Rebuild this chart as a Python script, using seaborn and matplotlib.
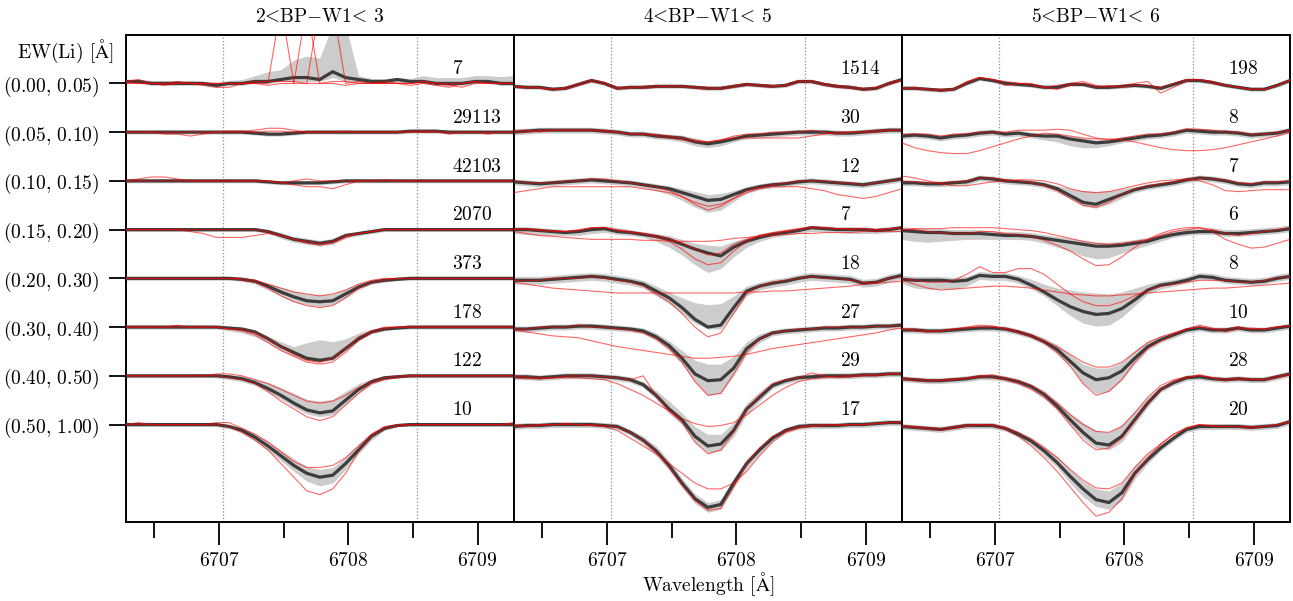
import numpy as np
import pandas as pd
import matplotlib
matplotlib.use("Agg")
import matplotlib.pyplot as plt
import seaborn as sns
from matplotlib.ticker import FixedLocator

# ---------------- data (flux deviations from continuum, in units of 0.01) ----------------
WL_START = 6706.28
WL_STEP = 0.1
N_PIX = 31
LI_LINE = 6707.78
WINDOW_EDGES = [6707.03, 6708.53]

COLOR_BINS = [(2, 3), (4, 5), (5, 6)]
EW_BINS = [("0.00", "0.05"), ("0.05", "0.10"), ("0.10", "0.15"), ("0.15", "0.20"),
           ("0.20", "0.30"), ("0.30", "0.40"), ("0.40", "0.50"), ("0.50", "1.00")]
COUNTS_P1 = [7, 29113, 42103, 2070, 373, 178, 122, 10]
COUNTS_P2 = [1514, 30, 12, 7, 18, 27, 29, 17]
COUNTS_P3 = [198, 8, 7, 6, 8, 10, 28, 20]
XTICKS = [6707, 6708, 6709]
XMINOR = [6706.5, 6707.5, 6708.5]

MED_P1 = [
    [1,1,0,0,0,0,0,-1,0,0,1,1,2,3,3,2,6,3,2,1,1,2,1,1,0,0,0,1,1,0,0],
    [0,0,0,0,0,0,0,0,0,0,-0.5,-1,-1,-0.5,0,0,0,0,0,0,0,0,0.5,0.5,0.5,0,0,0,0,0,0],
    [0,0,0,0,0,0,0,0,0,0,0,-0.5,-1,-1,-1,-1,-0.5,0,0,0,0,0,0,0,0,0,0,0,0,0,0],
    [0,0,0,0,0,0,0,0,0,0,0,-1,-3,-5,-6,-7,-6,-3,-2,-1,0,0,0,0,0,0,0,0,0,0,0],
    [0,0,0,0,0,0,0,0,0,-0.5,-1.5,-4,-7,-9.5,-11.5,-12,-11.5,-8,-4.5,-2,-1,-0.5,0,0,0,0,0,0,0,0,0],
    [0,0,0,0,0,0,0,0,-0.5,-1,-2.5,-6,-10,-13,-16,-17,-16,-11,-6,-2.5,-1,-0.5,0,0,0,0,0,0,0,0,0],
    [0,0,0,0,0,0,0,0,-0.5,-1.5,-3.5,-6.5,-10,-14,-17.5,-19,-18,-12.5,-7,-3,-1,-0.5,0,0,0,0,0,0,0,0,0],
    [0,0,0,0,0,0,0,0,-1,-3,-6.5,-11,-16,-21,-25,-27,-26,-20,-13,-6,-2,-0.5,0,0,0,0,0,0,0,0,0],
]
HI_P1 = [
    [2,2,1.5,1.5,1.5,1.5,1,0.5,1.5,2,4,6,7,12,14,13,30,30,4,2.5,2.5,3,2.5,4,3,3,3,4,4,3.5,4],
    [1,1,1,1,1,1,1,1,1,1,0.5,0,0,0.5,1,1,1,1,1,1,1,1,1.5,1.5,1.5,1,1,1,1,1,1],
    [1,1,1,1,1,1,1,1,1,1,1,0.5,0,0,0,0,0.5,1,1,1,1,1,1,1,1,1,1,1,1,1,1],
    [1,1,1,1,1,1,1,1,1,1,1,0,-1.5,-3.5,-4.5,-5.5,-4.5,-2,-1,0,1,1,1,1,1,1,1,1,1,1,1],
    [1,1,1,1,1,1,1,1,1,0.5,-0.5,-2.5,-4.5,-6.5,-8,-8.5,-8,-5.5,-2.5,-1,0,0.5,1,1,1,1,1,1,1,1,1],
    [1,1,1,1,1,1,1,0.5,0,0,-1.5,-4.5,-7.5,-10,-8,-6.5,-7.5,-6,-3,-1,0,0.5,1,1,1,1,1,1,1,1,1],
    [1,1,1,1,1,1,1,1,0.5,0,-1.5,-3.5,-6,-9,-12,-13,-12,-8,-4,-1.5,0,0.5,1,1,1,1,1,1,1,1,1],
    [1,1,1,1,1,1,1,1,0,-1.5,-4.5,-8.5,-13,-17.5,-21.5,-23,-22,-16.5,-10,-4,-1,0.5,1,1,1,1,1,1,1,1,1],
]
LO_P1 = [
    [0,0,-1,-1,-1,-1,-1,-2,-1,-1,0,0,1,1,1,1,3,1,0.5,0,0,0.5,0,0,-1,-1,-1,0,0,-1,-1],
    [-1,-1,-1,-1,-1,-1,-1,-1,-1,-1,-1.5,-2,-2,-1.5,-1,-1,-1,-1,-1,-1,-1,-1,-0.5,-0.5,-0.5,-1,-1,-1,-1,-1,-1],
    [-1,-1,-1,-1,-1,-1,-1,-1,-1,-1,-1,-1.5,-2,-2,-2,-2,-1.5,-1,-1,-1,-1,-1,-1,-1,-1,-1,-1,-1,-1,-1,-1],
    [-1,-1,-1,-1,-1,-1,-1,-1,-1,-1,-1,-2,-4.5,-6.5,-7.5,-8.5,-7.5,-4.5,-3,-2,-1,-1,-1,-1,-1,-1,-1,-1,-1,-1,-1],
    [-1,-1,-1,-1,-1,-1,-1,-1,-1,-1.5,-3,-6,-9,-12,-13.5,-14.5,-13.5,-10,-6,-3,-2,-1,-1,-1,-1,-1,-1,-1,-1,-1,-1],
    [-1,-1,-1,-1,-1,-1,-1,-1,-2,-3,-5,-8,-12,-15,-17.5,-18,-17,-12,-7,-3.5,-2,-1,-1,-1,-1,-1,-1,-1,-1,-1,-1],
    [-1,-1,-1,-1,-1,-1,-1,-1,-2,-3,-5,-8.5,-12,-16,-19.5,-21,-20,-14.5,-9,-4.5,-2,-1,-1,-1,-1,-1,-1,-1,-1,-1,-1],
    [-1,-1,-1,-1,-1,-1,-1,-1,-2,-4.5,-8.5,-13.5,-18.5,-24,-29,-31.5,-30,-23,-15,-8,-3,-1,-1,-1,-1,-1,-1,-1,-1,-1,-1],
]
RED_P1 = [
    [[1,2,0,0,1,0,-1,-2,-2,0,0,0,40,0,0,0,1,1,0,0,0,0,0,1,0,-1,-2,0,0,0,0],
     [0,0,0,-1,0,0,0,0,0,0,0,-1,0,0,40,0,0,-1,0,0,0,0,-1,0,-1,-2,0,1,0,0,0],
     [1,0,0,0,0,0,0,0,0,0,1,1,1,1,0,40,40,0,1,0,1,0,0,1,0,0,0,1,0,0,0]],
    [[0,0,0,-1,-1,-2,-1,0,0,0,0,0.5,0.5,0,0,0,0,0,0,0,0,0,0.5,0.5,0.5,-1,0,0,0,0,0],
     [0,0,0,0,0,0,0,0,0.5,0.5,1,2,2,1,0,0,0,0.5,0,0,0,0,0,0,0,0,0,0,-1,0,0]],
    [[0,1,2,2,1,0,0,0,0,0,0,0,-1,0,1,0,0,0,0,0,0.5,0,0,0,0,0,0,0,0,0,0],
     [0,0,0,0,0,0,0,0,0,0,0,0,-1,-2,-3,-3,-4,-2,0,0,0,0,0,0,0,0,0,0,0,0,0]],
    [[0,0,0,0,0,-1,-2,-4,-4,-4,-3,-2,-3,-5,-6,-7,-6,-3,-2,-1,0,0,0,0,0,0,0,0,0,0,0],
     [0,0,0,0,0,0,0,0,0,0,0,-1,-3,-5,-7,-8,-7,-4,-2,-1,0,0,0,0,0,0,0,0,0,0,0]],
    [[0,0,0,0,0,0,0,0,0,-1,-2,-5,-9,-12,-14,-15,-14,-10,-5,-2,-1,0,0,0,0,0,0,0,0,0,0],
     [0,0,0,0,0,0,0,0,0,0,-1,-3,-5,-7,-8,-9,-8,-6,-3,-1,0,0,0,0,0,0,0,0,0,0,0]],
    [[0,0,0,0,0,0,0,0,-1,-2,-4,-8,-12,-15,-18,-19,-18,-13,-7,-3,-1,0,0,0,0,0,0,0,0,0,0],
     [0,0,0,0,1,0,0,0,-1,-1,-3,-6,-10,-14,-17,-18,-16,-11,-5,-2,0,0,0,0,0,0,0,0,0,0,0]],
    [[0,0,0,0,0,0,0,1,1,0,-2,-4,-7,-10,-13,-14,-13,-10,-6,-3,-1,0,0,0,0,0,0,0,0,0,0],
     [0,0,0,0,0,0,0,0,-1,-2,-4,-8,-13,-17,-21,-23,-21,-15,-9,-4,-2,-1,0,0,0,0,0,0,0,0,0]],
    [[0,1,0,0,0,0,0,1,1,-2,-5,-9,-14,-19,-22,-22,-21,-17,-11,-5,-1,0,0,0,0,0,0,0,0,0,1],
     [0,0,0,0,0,0,0,0,-1,-4,-8,-13,-20,-27,-34,-36,-33,-25,-14,-6,-2,-1,0,0,0,0,0,0,0,0,0]],
]

MED_P2 = [
    [-1.5,-2,-2,-3,-2.5,-0.5,1.5,0,-2.5,-2,-2,-1.5,-1.5,-1.5,-2,-2.5,-2.5,-1.5,-0.5,-1,-1.5,-1,1,1,-0.5,-1.5,-2,-3,-2.5,0,2],
    [0,0.5,1,1,1,1,1,0.5,0,-1,-1,-2,-2.5,-3,-5,-6,-5,-3.5,-2,-1.5,-1,-0.5,0,0,0,-0.5,-0.5,0,0.5,1,1],
    [-0.5,-1,-1.5,-1,-0.5,0,0.5,0,-0.5,-1,-2,-3,-4,-6,-8,-10,-9.5,-7,-4.5,-3,-2,-1.5,-0.5,0,-0.5,-1,-1.5,-2,-1,0,1],
    [0,0,-0.5,-1,-1.5,-1,0,0.5,-1,-1.5,-2.5,-3.5,-5,-7.5,-10,-12,-13.5,-9,-6,-4,-2.5,-1.5,-0.5,1,0.5,0,0,0,-0.5,0,1],
    [-1,-1,-1,-0.5,0,0.5,1,0.5,-0.5,-1.5,-3,-6.5,-10,-15,-21,-25,-24,-15,-6.5,-4,-2.5,-1.5,0,1,0.5,0,-0.5,-2.5,-2,0,1.5],
    [-1,-1,-0.5,0,0,0.5,0.5,0,-0.5,-1,-2,-5,-9.5,-16,-24,-27.5,-27,-21,-11,-6,-3,-2,-1.5,-1,-0.5,-0.5,0,0,0.5,0.5,1],
    [-0.5,-0.5,-1,-0.5,0,0,0,-0.5,-1,-2,-4.5,-10,-17,-22.5,-31,-36,-35,-28,-17,-11,-5,-2.5,-1,-0.5,0,0,0,0.5,0.5,1,1],
    [-1,-0.5,-0.5,0,0,0,0,-0.5,-1,-4,-8,-13.5,-21,-30,-38,-42.5,-41,-30,-20,-13,-7,-3,-1,-0.5,-0.5,-0.5,0,0,0.5,1,1],
]
HI_P2 = [
    [-0.5,-1,-1,-2,-1.5,0.5,2.5,1,-1.5,-1,-1,-0.5,-0.5,-0.5,-1,-1.5,-1.5,-0.5,0.5,0,-0.5,0,2,2,0.5,-0.5,-1,-2,-1.5,1,3],
    [1.5,2,2.5,2.5,2.5,2.5,2.5,2,1.5,0.5,0.5,-0.5,-1,-1.5,-3,-4.5,-3.5,-2,-0.5,0,0.5,1,1.5,1.5,1.5,1,1,1.5,2,2.5,2.5],
    [1,0.5,0,0.5,1,1.5,2,1.5,1,0.5,-0.5,-1.5,-2.5,-4,-5.5,-7,-6.5,-5,-3,-1.5,-0.5,0,1,1.5,1,0.5,0,-0.5,0.5,1.5,2.5],
    [1.5,1.5,1,0.5,0,0,1.5,2,1,0,-1,-2,-3,-5,-7,-8,-8.5,-6,-4,-2,-1,0,1,2,2,1.5,1.5,1.5,1,1.5,2],
    [1,1,1,1.5,2,2.5,3,2.5,1.5,0.5,-1,-4,-7,-10,-12.5,-13.5,-13,-9,-4,-2,-0.5,0.5,2,3,2.5,2,1.5,-0.5,0,2,3.5],
    [0.5,0.5,1,1.5,1.5,2,2,1.5,1,0.5,-0.5,-3,-7,-12,-17,-19,-19,-15,-7.5,-3.5,-1.5,-0.5,0,0.5,1,1,1.5,1.5,2,2,2.5],
    [1,1,0.5,1,1.5,1.5,1.5,1,0.5,-0.5,-3,-7.5,-13,-19,-26,-30,-30,-24,-14,-8,-3,-1,0.5,1,1.5,1.5,1.5,2,2,2.5,2.5],
    [0.5,1,1,1.5,1.5,1.5,1.5,1,0.5,-2.5,-6,-11,-18.5,-27.5,-35.5,-40,-38.5,-27.5,-17.5,-11,-5.5,-1.5,0.5,1,1,1,1.5,1.5,2,2.5,2.5],
]
LO_P2 = [
    [-2.5,-3,-3,-4,-3.5,-1.5,0.5,-1,-3.5,-3,-3,-2.5,-2.5,-2.5,-3,-3.5,-3.5,-2.5,-1.5,-2,-2.5,-2,0,0,-1.5,-2.5,-3,-4,-3.5,-1,1],
    [-1.5,-1,-0.5,-0.5,-0.5,-0.5,-0.5,-1,-1.5,-2.5,-2.5,-3.5,-4,-5,-7,-8,-7,-5,-3.5,-3,-2.5,-2,-1.5,-1.5,-1.5,-2,-2,-1.5,-1,-0.5,-0.5],
    [-2,-2.5,-3,-2.5,-2,-1.5,-1,-1.5,-2,-2.5,-3.5,-5,-7,-10,-13.5,-16,-15,-10.5,-6.5,-4.5,-3.5,-3,-2,-1.5,-2,-2.5,-3,-3.5,-2.5,-1.5,-0.5],
    [-2,-2.5,-3,-3,-3,-3,-2,-1.5,-2.5,-3,-4,-6,-9,-13,-18,-22,-20,-14,-9,-6,-4,-3,-2,-1,-1,-1.5,-2,-2,-2,-1.5,-1],
    [-3,-3,-3,-2.5,-2,-1.5,-1,-1.5,-2.5,-3.5,-5,-9,-13,-18,-23,-26,-26,-18,-9,-6,-4.5,-3.5,-2,-1,-1.5,-2,-2.5,-4.5,-4,-2,-0.5],
    [-2.5,-2.5,-2,-1.5,-1.5,-1,-1,-1.5,-2,-2.5,-3.5,-7,-12,-19,-28,-35,-34,-25,-14,-8,-4.5,-3.5,-3,-2.5,-2,-2,-1.5,-1.5,-1,-1,-0.5],
    [-2,-2,-2.5,-2,-1.5,-1.5,-1.5,-2,-2.5,-3.5,-6,-12,-19.5,-25,-34,-39.5,-38.5,-31,-20,-13,-6.5,-4,-2.5,-2,-1.5,-1.5,-1.5,-1,-1,-0.5,-0.5],
    [-2.5,-2,-2,-1.5,-1.5,-1.5,-1.5,-2,-2.5,-5.5,-10,-16,-23.5,-32.5,-40.5,-45,-43.5,-32.5,-22.5,-15,-8.5,-4.5,-2.5,-2,-2,-2,-1.5,-1.5,-1,-0.5,-0.5],
]
RED_P2 = [
    [[-1,-2.5,-2,-3.5,-2,0,2,0.5,-2,-2.5,-1.5,-1,-2,-1,-2.5,-3,-2,-1,0,-1.5,-2,-0.5,1.5,0.5,-1,-2,-2.5,-3.5,-3,0.5,2],
     [-2,-1.5,-2.5,-2.5,-3,-1,1,-0.5,-3,-1.5,-2.5,-2,-1,-2,-1.5,-2,-3,-2,-1,-0.5,-1,-1.5,0.5,1.5,0,-1,-1.5,-2.5,-2,-0.5,1.5]],
    [[0,0,1,1,1,1,1,0,0,-1,-1,-2,-3,-4,-5,-5,-4,-3,-3,-3,-3,-3,-3,-2,-1,0,0,0,0,1,1],
     [1,1,0,1,1,1,1,1,0,-1,-1,-1,-2,-3,-4,-5,-4,-2,-1,-1,0,0,0,1,0,-1,0,0,1,1,1]],
    [[-6,-5,-4,-3,-3,-3,-3,-3,-3,-3,-4,-5,-6,-8,-11,-13,-12,-9,-6,-4,-3,-3,-3,-4,-5,-7,-8,-9,-8,-6,-4],
     [0,-1,-1,-1,0,0,1,1,0,-1,-2,-3,-5,-8,-12,-15,-13,-9,-5,-3,-2,-1,0,0,0,-1,-1,-2,-1,0,1]],
    [[-1,-2,-3,-3.5,-4,-4.5,-5,-5,-5,-5,-5.5,-5.5,-6,-6,-6,-6,-5.5,-4.5,-4,-3.5,-3,-2.5,-2,-2,-1.5,-1.5,-1.5,-1,-1,-1,-1],
     [0.5,0,-0.5,-0.5,-1,0,1,1,0,-1,-2,-4,-6,-10,-15,-18,-17,-11,-6,-3,-2,-1,0,1,1,0.5,0,0.5,0,0.5,1],
     [0,0.5,0,-1,-1,-0.5,1,1,-0.5,-1.5,-2,-3,-4.5,-7,-10,-13,-12,-7.5,-5,-3,-1.5,-0.5,0.5,1.5,1,0.5,0.5,0.5,0,0.5,1]],
    [[-2,-3,-4,-5,-5.5,-6,-6.5,-7,-7.5,-7.5,-7.5,-7.5,-7.5,-7.5,-7.5,-7.5,-7.5,-7.5,-7,-7,-6.5,-6.5,-6,-5.5,-5,-4.5,-4,-3,-2.5,-2,-1.5],
     [-1,-1,-1,0,0,0,1,0,-1,-2,-4,-8,-12,-18,-25,-30,-28,-18,-8,-4,-2,-1,0,1,0,0,-1,-2,-2,0,1]],
    [[-1.5,-2.5,-3.5,-4.5,-5,-5.5,-7,-8.5,-10,-11,-12,-13,-14,-15,-16,-16,-15.5,-15,-14,-12.5,-11,-10,-9,-8,-7,-6,-5,-4,-3,-1.5,-0.5],
     [-1,-1,0,0,0,1,0,0,-1,-1.5,-3,-6,-11,-18,-28,-35,-34,-24,-13,-6,-3,-2,-1,-1,0,0,0,0,0.5,0.5,1]],
    [[0,-0.5,-1,-1,-1,-1,-1.5,-2,-4,-7,-10,-14,-18,-22,-24.5,-26,-25.5,-24,-20,-15,-10,-6,-3,-1.5,-1,0,0,0.5,0.5,1,1],
     [-1,-1.5,-1.5,-1,0,0,0,-0.5,-1,-2,0,-10,-18,-24,-34,-40,-38,-29,-17,-10,-4,-2,-1,1.5,0,-1,-0.5,0,0,1,1]],
    [[0,-0.5,0,0,0,0,-0.5,-1,-3,-7,-11,-15,-20,-25,-30,-33,-33,-30,-24,-16,-9,-4,-2,-1,-0.5,0,0,0,0.5,1,1],
     [-1,-1,-0.5,0,0.5,0,0,-0.5,-1,-4,-8,-14,-22,-31,-39,-44,-43,-32,-20,-12,-6,-3,-1,-0.5,0,-0.5,0,0,0.5,1,1.5]],
]

MED_P3 = [
    [-2.5,-2.5,-3,-3.5,-3,0,2.5,1.5,0,-0.5,-1,-2,-2,-0.5,-0.5,-2,-2,-1.5,-1,-1.5,-2.5,-0.5,1.5,1.5,0.5,-1,-2,-3,-3,-1,1.5],
    [-2,-1.5,-2,-3,-2,-1.5,-0.5,0,-1,-0.5,-1.5,-2,-2,-3.5,-4.5,-5.5,-5,-4,-3,-2,-1.5,-0.5,1,0.5,0,0,-0.5,-1.5,-1,-0.5,1],
    [-1,-1,-1.5,-1.5,-1,-0.5,1.5,1,0,-0.5,-1,-2,-4,-7.5,-11,-12,-9.5,-7,-4.5,-3,-2,-1,0.5,1.5,1,0,-1.5,-2,-1,-1,-0.5],
    [-0.5,-1,-1.5,-1.5,-2,-2,-2,-2.5,-3,-3,-3.5,-4.5,-5.5,-6.5,-7.5,-8.5,-8.5,-8,-7,-6,-4,-2.5,-1.5,-1,-1,-2,-2,-1.5,-1,-0.5,0.5],
    [-0.5,-1,-1,-1,-1.5,-1,1.5,1,1,-0.5,-3.5,-7,-11,-14.5,-17,-18.5,-18,-15.5,-11,-6,-3.5,-2.5,-1,1,0.5,-1,-1.5,-2,-1.5,0,1],
    [-1.5,-1.5,-2,-2,-1.5,-1,-0.5,-0.5,-1,-2.5,-4.5,-7.5,-11.5,-17.5,-23.5,-27,-26,-22.5,-16,-10,-6.5,-4,-1.5,-0.5,-1.5,-1.5,-0.5,-1.5,-1.5,-0.5,0.5],
    [-1.5,-2,-2.5,-2.5,-2,-1.5,-0.5,-0.5,-1.5,-3,-5.5,-9.5,-15.5,-22.5,-29,-34.5,-35.5,-31,-22.5,-14,-7,-3.5,-1,-0.5,-1.5,-2,-1.5,-2,-2,-0.5,1],
    [-1,-1.5,-2,-2.5,-1.5,-0.5,-0.5,-0.5,-2,-5,-8.5,-13.5,-19.5,-26.5,-33,-38.5,-40,-35,-25,-18,-12,-7,-2.5,-1,-1,-1,-1,-1.5,-1,-0.5,1.5],
]
HI_P3 = [
    [-1.5,-1.5,-2,-2.5,-2,1,3.5,2.5,1,0.5,0,-1,-1,0.5,0.5,-1,-1,-0.5,0,-0.5,-1.5,0.5,2.5,2.5,1.5,0,-1,-2,-2,0,2.5],
    [-0.5,0,-0.5,-1.5,-0.5,0,1,1.5,0.5,1,0,-0.5,-0.5,-2,-3,-4,-3.5,-2.5,-1.5,-0.5,0,1,2.5,2,1.5,1.5,1,0,0.5,1,2.5],
    [0.5,0.5,0,0,0.5,1,3,2.5,1.5,1,0.5,-0.5,-2.5,-4,-5,-5.5,-5,-4,-3,-1.5,-0.5,0.5,2,3,2.5,1.5,0,-0.5,0.5,0.5,1],
    [1.5,1,0.5,0.5,0,0,0,-0.5,-1,-1,-1.5,-2.5,-3.5,-4.5,-5.5,-6.5,-6.5,-6,-5,-4,-2,-0.5,0.5,1,1,0,0,0.5,1,1.5,2.5],
    [1.5,1,1,1,0.5,1,3.5,3,3,1.5,-0.5,-3,-5,-6,-7,-7.5,-8,-7,-5,-3,-1.5,-0.5,1,3,2.5,1,0.5,0,0.5,2,3],
    [0,0,-0.5,-0.5,0,0.5,1,1,0.5,-1,-3,-5.5,-9,-14,-19,-21,-21,-18,-12,-7,-4.5,-2.5,0,1,0,0,1,0,0,1,2],
    [0,-0.5,-1,-1,-0.5,0,1,1,0,-1.5,-4,-7.5,-13,-19,-24,-28,-29,-25,-18,-11,-5.5,-2,0.5,1,0,-0.5,0,-0.5,-0.5,1,2.5],
    [0.5,0,-0.5,-1,0,1,1,1,-0.5,-3.5,-6.5,-11,-16,-23,-29,-33,-34,-30,-21,-15,-10,-5.5,-1,0.5,0.5,0.5,0.5,0,0.5,1,3],
]
LO_P3 = [
    [-3.5,-3.5,-4,-4.5,-4,-1,1.5,0.5,-1,-1.5,-2,-3,-3,-1.5,-1.5,-3,-3,-2.5,-2,-2.5,-3.5,-1.5,0.5,0.5,-0.5,-2,-3,-4,-4,-2,0.5],
    [-3.5,-3,-3.5,-4.5,-3.5,-3,-2,-1.5,-2.5,-2,-3,-4,-5,-7,-8,-8,-7,-5.5,-4.5,-3.5,-3,-2,-0.5,-1,-1.5,-1.5,-2,-3,-2.5,-2,-0.5],
    [-2.5,-2.5,-3,-3,-2.5,-2,0,-0.5,-1.5,-2,-2.5,-3.5,-6,-9,-13,-14,-12,-9,-6,-4.5,-3.5,-2.5,-1,0,-0.5,-1.5,-3,-3.5,-2.5,-2.5,-2],
    [-5,-6,-6.5,-6,-5.5,-5,-5,-5,-5,-5,-5.5,-7,-9,-11,-13.5,-15,-14.5,-12,-10,-8,-6,-4,-3,-2.5,-2.5,-3.5,-3.5,-3,-2.5,-2,-1],
    [-2.5,-5,-5.5,-5.5,-5.5,-4,-0.5,-1,-1,-2.5,-5.5,-9,-14,-19,-23,-24.5,-24,-20,-14,-8,-5.5,-4,-2.5,-0.5,-1,-2.5,-3,-3.5,-3,-1.5,-0.5],
    [-3,-3,-3.5,-3.5,-3,-2.5,-2,-2,-2.5,-4,-6,-9,-14,-20,-29,-34,-33,-27,-19,-12,-8,-5.5,-3,-2,-3,-3,-2,-3,-3,-2,-1],
    [-3,-3.5,-4,-4,-3.5,-3,-2,-2,-3,-4.5,-7,-11.5,-17.5,-25,-32,-37,-38,-34,-25,-16,-8.5,-5,-2.5,-2,-3,-3.5,-3,-3.5,-3.5,-2,-0.5],
    [-2.5,-3,-3.5,-4,-3,-2,-2,-2,-3.5,-6.5,-10.5,-16,-22,-30,-37,-42,-43.5,-39,-28,-20,-13.5,-8.5,-4,-2.5,-2.5,-2.5,-2.5,-3,-2.5,-2,0],
]
RED_P3 = [
    [[-2,-3,-3,-3,-3,0,3,2,1,0,-1,-2,-1,0,1,-1,-2,-1,0,1,-5,-2,1,2,1,-1,-2,-3,-3,-1,2],
     [-3,-2,-3,-4,-3,1,3,2,-1,0,0,-2,-3,-1,0,-2,-1,-2,-1,-1,-2,0,2,2,0,-1,-2,-3,-3,-1,1.5]],
    [[-5.5,-8,-9.5,-10.5,-11,-11,-9.5,-7.5,-5.5,-3.5,-2,-0.5,-1,-2,-3,-3.5,-3.5,-4,-5,-6.5,-8,-9,-9.5,-9.5,-9,-8,-6.5,-5,-3.5,-2,0],
     [-1,-1,-1,-2,-1,-1,0,0,0,1,1,1,1.5,1,-1,-3,-4,-3,-2,-1,-1,0,1.5,1.5,1,0,0,-1,-1,0,1]],
    [[2.5,1.5,0,-1.5,-2.5,-2.5,-1.5,-0.5,0,0.5,0.5,0,-1.5,-4,-5.5,-6,-5.5,-4,-2.5,-1,0,0.5,1,0,-2,-5,-5.5,-5,-4.5,-4.5,-4.5],
     [0,-0.5,-1,-1,-0.5,0,1.5,1.5,0.5,0,-1,-2.5,-5,-9,-12.5,-13.5,-11,-7,-4,-2.5,-1.5,-0.5,0.5,1.5,1,0.5,-1,-1.5,-0.5,-0.5,0]],
    [[0,0,-1,-1.5,-2,-2,-1,-1,-2,-2.5,-3.5,-5.5,-8,-11,-15,-18.5,-18,-14,-9,-5,-2,0,1,1,0,-2,-3,-2,-1,0,1],
     [0,0.5,0.5,0.5,1,1,1,1,0.5,0,-0.5,-1.5,-3,-4.5,-6,-7,-7.5,-7,-6,-5,-3,-1,0,1,-1,-5,-7.5,-9.5,-9,-7,-5]],
    [[0,-1,-2,-2,-1,2,6,3,3,5,5,2,-3,-8,-12,-14,-14,-12,-9,-6,-4,-3,-2,-1,-1,-1,-2,-2,-1,0,1],
     [-1,-3,-5,-6,-5.5,-5,-4.5,-4,-4,-4.5,-5,-6,-7,-8,-8.5,-9,-9,-8.5,-8,-7.5,-7,-6.5,-6,-5.5,-5,-5,-4.5,-4,-3.5,-3,-2.5]],
    [[-1,-1,-2,-2,-1,-0.5,0,0,-0.5,-2,-4,-7,-10,-14,-18,-20.5,-20.5,-18,-13,-8,-5,-3,-1,0,-1,-1,0,-1,-1,0,1],
     [-1,-2,-2.5,-2,-1,0,1,0.5,-1,-3,-5,-8,-13,-20,-29,-35,-33,-27,-18,-11,-7,-4,-1,1,-0.5,-2.5,-1,-0.5,-1,0,0.5]],
    [[-1,-1.5,-2,-2.5,-2,-1,0,0.5,-1,-2.5,-5,-9,-14,-20,-25,-28.5,-29,-26,-19,-11,-5,-2,-0.5,0,-1,-1.5,-1,-1.5,-2,0,1],
     [-2,-2.5,-3,-2,-1.5,-1.5,-0.5,-1,-2,-4,-7,-11,-17,-25,-33,-38,-37,-32,-23,-14,-7,-3,-1,0.5,-1,-2.5,-2,-2,-2,-1,0.5]],
    [[-0.5,-1,-1.5,-2,-1,0,0,0,-1.5,-4,-7.5,-12,-17,-23,-28.5,-32.5,-33,-30,-22,-15,-10,-5,-1.5,0,-0.5,-1,-1,-1,-1,0,1.5],
     [-1,-1.5,-2.5,-3,-2,-1,0,-0.5,-2.5,-6,-11,-17,-24,-32,-40,-47,-45,-38,-26,-17,-10,-5,-2,0,-1,-1,-1,-2,-1,0,1.5]],
]

# ---------------- style ----------------
sns.set_theme(style="ticks")
plt.rcParams.update({
    "font.family": ["DejaVu Serif"],
    "mathtext.fontset": "cm",
    "text.color": "black",
    "axes.labelcolor": "black",
    "axes.edgecolor": "black",
    "axes.linewidth": 1.4,
    "xtick.color": "black",
    "ytick.color": "black",
    "axes.facecolor": "white",
    "figure.facecolor": "white",
})

FS = 14
OFFSET = 0.25
wl = WL_START + WL_STEP * np.arange(N_PIX)
bases = [1 - OFFSET * i for i in range(len(EW_BINS))]

fig, axes = plt.subplots(1, 3, figsize=(12.93, 6.01), dpi=100, sharey=True)
fig.subplots_adjust(left=0.0972, right=0.9977, top=0.9423, bottom=0.1314, wspace=0)

panels = [
    (MED_P1, HI_P1, LO_P1, RED_P1, COUNTS_P1),
    (MED_P2, HI_P2, LO_P2, RED_P2, COUNTS_P2),
    (MED_P3, HI_P3, LO_P3, RED_P3, COUNTS_P3),
]

for p, (ax, (med, hi, lo, reds, counts)) in enumerate(zip(axes, panels)):
    for x0 in WINDOW_EDGES:
        ax.axvline(x0, color="0.55", ls=":", lw=0.9, zorder=0)

    med_rows, red_rows = [], []
    for i, base in enumerate(bases):
        ax.fill_between(wl, base + np.array(lo[i]) / 100.0, base + np.array(hi[i]) / 100.0,
                        color="#cccccc", linewidth=0, zorder=1)
        med_rows.append(pd.DataFrame({"wl": wl, "y": base + np.array(med[i]) / 100.0, "unit": i}))
        for j, r in enumerate(reds[i]):
            red_rows.append(pd.DataFrame({"wl": wl, "y": base + np.array(r) / 100.0,
                                          "unit": f"{i}-{j}"}))
        ax.text(6708.8, base + 0.048, rf"$\text{{{counts[i]}}}$", fontsize=FS, ha="left",
                va="baseline", zorder=5)

    df_med = pd.concat(med_rows, ignore_index=True)
    df_red = pd.concat(red_rows, ignore_index=True)
    sns.lineplot(data=df_med, x="wl", y="y", units="unit", estimator=None, sort=False,
                 color="#3c3c3c", linewidth=2.3, ax=ax, legend=False, zorder=3)
    sns.lineplot(data=df_red, x="wl", y="y", units="unit", estimator=None, sort=False,
                 color="red", alpha=0.6, linewidth=0.8, ax=ax, legend=False, zorder=4)

    ax.set_xlim(LI_LINE - 1.5, LI_LINE + 1.5)
    ax.set_ylim(-1.25, 1.25)
    ax.set_xlabel("")
    ax.set_ylabel("")
    ax.set_xticks(XTICKS)
    ax.set_xticklabels([rf"$\text{{{t}}}$" for t in XTICKS], fontsize=FS)
    ax.xaxis.set_minor_locator(FixedLocator(XMINOR))
    ax.tick_params(axis="x", which="major", length=16.5, width=1.3, direction="out", pad=5)
    ax.tick_params(axis="x", which="minor", length=11.3, width=1.3, direction="out")
    lo_c, hi_c = COLOR_BINS[p]
    ax.set_title(rf"$\text{{{lo_c}<BP}}{{-}}\text{{W1< {hi_c}}}$", fontsize=FS, pad=9)
    for s in ax.spines.values():
        s.set_linewidth(1.4)
        s.set_color("black")

axes[0].set_yticks(bases)
axes[0].set_yticklabels([rf"$\text{{({a}, {b})}}$" for a, b in EW_BINS], fontsize=FS)
axes[0].tick_params(axis="y", length=12.5, width=1.3, direction="out", pad=6.5)
for ax in axes[1:]:
    ax.tick_params(axis="y", left=False, labelleft=False)

axes[1].set_xlabel(r"$\text{Wavelength [}\mathrm{\AA}\text{]}$", fontsize=FS, labelpad=0)
fig.text(114 / 1293, 1 - 51 / 601, r"$\text{EW(Li) [}\mathrm{\AA}\text{]}$", fontsize=FS,
         ha="right", va="center")

fig.savefig("out.png", dpi=100)
